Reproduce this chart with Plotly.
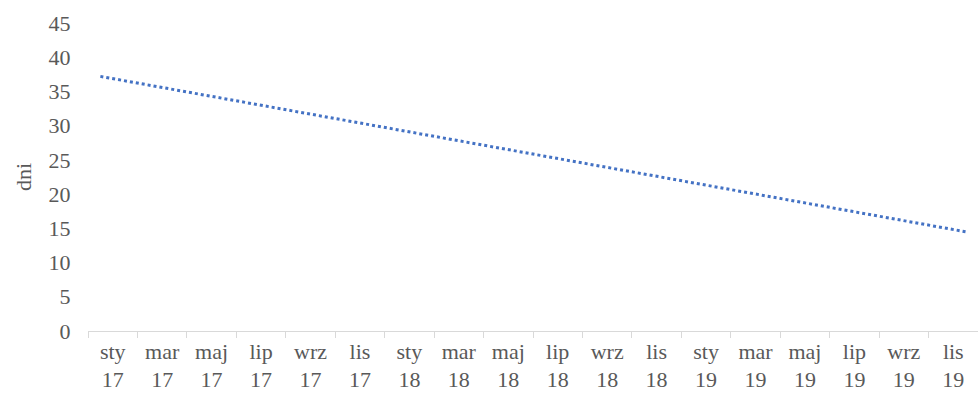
import plotly.graph_objects as go

# Monthly categories Jan 2017 - Dec 2019 (Polish month abbreviations)
month_names = ["sty", "lut", "mar", "kwi", "maj", "cze",
               "lip", "sie", "wrz", "paź", "lis", "gru"]
years = ["17", "18", "19"]
month_labels = [f"{m} {y}" for y in years for m in month_names]

# Linear trend of the number of days: value at first and last month
trend_months = [0, len(month_labels) - 1]
trend_days = [37.2, 14.5]

# Axis labels shown every second month, centred over the two-month group
label_positions = [i + 0.5 for i in range(0, len(month_labels), 2)]
label_texts = [month_labels[i].replace(" ", "<br>") for i in range(0, len(month_labels), 2)]
group_edges = [i - 0.5 for i in range(0, len(month_labels) + 1, 2)]

y_ticks = [0, 5, 10, 15, 20, 25, 30, 35, 40, 45]

font_family = "Liberation Serif, Times New Roman, serif"
text_color = "#595959"
font_size = 22

fig = go.Figure()
fig.add_trace(go.Scatter(
    x=trend_months,
    y=trend_days,
    mode="lines",
    line=dict(color="#4472C4", width=3, dash="dot"),
    showlegend=False,
    hoverinfo="skip",
))

fig.update_layout(
    width=978,
    height=397,
    margin=dict(l=88, r=0, t=23, b=66, autoexpand=False),
    paper_bgcolor="white",
    plot_bgcolor="white",
    font=dict(family=font_family, size=font_size, color=text_color),
    xaxis=dict(
        range=[-0.5, len(month_labels) - 0.5],
        automargin=False,
        tickmode="array",
        tickvals=label_positions,
        ticktext=label_texts,
        ticks="",
        showline=True,
        linecolor="#D9D9D9",
        linewidth=1.3,
        showgrid=False,
        zeroline=False,
        tickfont=dict(family=font_family, size=font_size, color=text_color),
        minor=dict(
            tickmode="array",
            tickvals=group_edges,
            ticks="outside",
            ticklen=6,
            tickcolor="#D9D9D9",
            tickwidth=1.3,
            showgrid=False,
        ),
    ),
    yaxis=dict(
        range=[0, 45],
        automargin=False,
        tickmode="array",
        tickvals=y_ticks,
        ticks="outside",
        ticklen=12,
        tickcolor="rgba(0,0,0,0)",
        showline=False,
        showgrid=False,
        zeroline=False,
        tickfont=dict(family=font_family, size=font_size, color=text_color),
        title=dict(text="dni", font=dict(family=font_family, size=font_size, color=text_color), standoff=10),
    ),
)

fig.write_html("out.html")
